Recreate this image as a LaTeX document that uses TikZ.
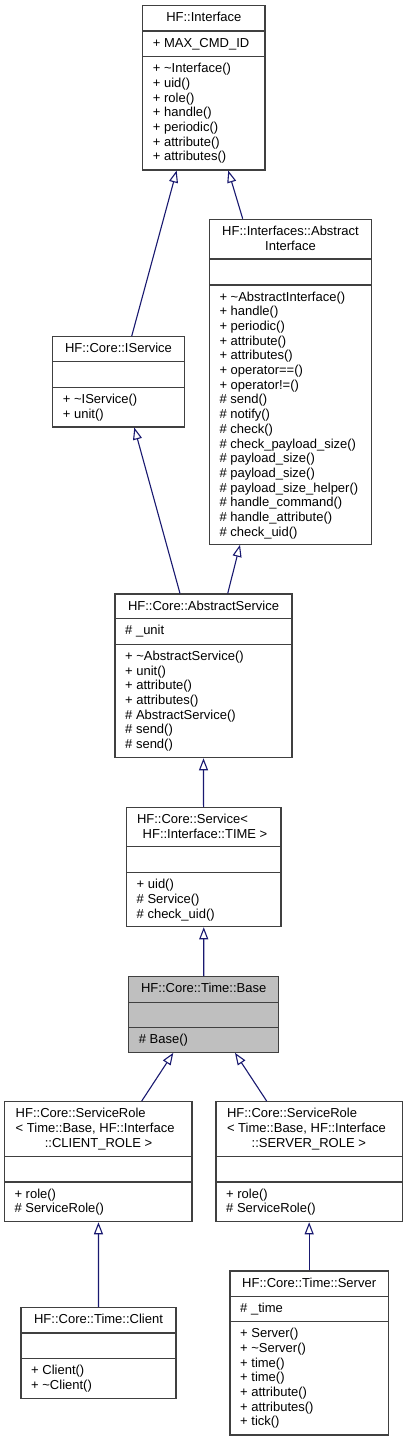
\documentclass[tikz,border=0pt]{standalone}
\usepackage{fontspec}
\setmainfont{Liberation Sans}
\usetikzlibrary{arrows.meta}
\definecolor{edgeblue}{RGB}{25,25,112}
\definecolor{basegray}{RGB}{191,191,191}
\definecolor{boxline}{RGB}{64,64,64}
\tikzset{
  box/.style={draw=boxline,line width=1.1pt,rectangle,inner sep=0pt},
  sepline/.style={draw=boxline,line width=1.1pt},
  txt/.style={inner sep=0pt,font=\fontsize{13}{14.7}\selectfont},
  edge/.style={draw=edgeblue,line width=1.1pt,-{Triangle[open,fill=white,length=12pt,width=9pt]}}
}
\newcommand\umlbox[8]{%
  \pgfmathsetmacro\bw{#3-#2}\pgfmathsetmacro\bh{#7-#4}%
  \node[box,fill=#8,minimum width=\bw pt,minimum height=\bh pt] (#1) at ({(#2+#3)/2},{(#4+#7)/2}) {};
  \draw[sepline] (#2,#5) -- (#3,#5) (#2,#6) -- (#3,#6);
}
\newcommand\members[4]{%
  \foreach \t [count=\i from 0] in {#4} {\node[txt,anchor=base west] (#1-\i) at ({#2+10},{#3+16+14.7*\i}) {\t};}
}
\newcommand\hdr[4]{\node[txt,anchor=base] (#1) at (#2,#3) {#4};}
\newcommand\hdrl[4]{\node[txt,anchor=base west] (#1) at (#2,#3) {#4};}
\begin{document}
\begin{tikzpicture}[x=1pt,y=-1pt]
\useasboundingbox (0,0) rectangle (408,1441);
\fill[white] (0,0) rectangle (408,1441);
% HF::Interface
\umlbox{iface}{142.7}{265}{5.7}{31}{56.7}{170}{white}
\hdr{iface-h}{203.85}{21.7}{HF::Interface}
\members{iface-a}{142.7}{31}{+ MAX\_CMD\_ID}
\members{iface-m}{142.7}{56.7}{+ \textasciitilde Interface(),+ uid(),+ role(),+ handle(),+ periodic(),+ attribute(),+ attributes()}
% AbstractInterface
\umlbox{aint}{209.3}{371.7}{219.3}{259}{285}{544.3}{white}
\hdr{aint-h1}{290.5}{235.3}{HF::Interfaces::Abstract}
\hdr{aint-h2}{290.5}{250}{Interface}
\members{aint-m}{209.3}{285}{+ \textasciitilde AbstractInterface(),+ handle(),+ periodic(),+ attribute(),+ attributes(),+ operator==(),+ operator!=(),\# send(),\# notify(),\# check(),\# check\_payload\_size(),\# payload\_size(),\# payload\_size(),\# payload\_size\_helper(),\# handle\_command(),\# handle\_attribute(),\# check\_uid()}
% IService
\umlbox{iservice}{52.7}{184.3}{336.7}{361.7}{387.7}{427}{white}
\hdr{iservice-h}{118.5}{352.7}{HF::Core::IService}
\members{iservice-m}{52.7}{387.7}{+ \textasciitilde IService(),+ unit()}
% AbstractService
\umlbox{absserv}{115}{292}{594}{618.7}{644.3}{757.7}{white}
\hdr{absserv-h}{203.5}{610}{HF::Core::AbstractService}
\members{absserv-a}{115}{618.7}{\# \_unit}
\members{absserv-m}{115}{644.3}{+ \textasciitilde AbstractService(),+ unit(),+ attribute(),+ attributes(),\# AbstractService(),\# send(),\# send()}
% Service<TIME>
\umlbox{service}{126.5}{281}{807.7}{846.7}{872.7}{926.7}{white}
\hdrl{service-h1}{136.8}{823.5}{HF::Core::Service<}
\hdr{service-h2}{205}{838.2}{HF::Interface::TIME >}
\members{service-m}{126.5}{872.7}{+ uid(),\# Service(),\# check\_uid()}
% Base
\umlbox{base}{128.7}{278.7}{976.7}{1002.3}{1027.7}{1052.3}{basegray}
\hdr{base-h}{203.7}{992.7}{HF::Core::Time::Base}
\members{base-m}{128.7}{1027.7}{\# Base()}
% ServiceRole client
\umlbox{src}{4.3}{192}{1101.7}{1156.7}{1182}{1221.7}{white}
\hdrl{src-h1}{15.5}{1117.7}{HF::Core::ServiceRole}
\hdrl{src-h2}{15.5}{1132.4}{< Time::Base, HF::Interface}
\hdr{src-h3}{98.5}{1147.1}{::CLIENT\_ROLE >}
\members{src-m}{4.3}{1182}{+ role(),\# ServiceRole()}
% ServiceRole server
\umlbox{srs}{216}{402.7}{1101.7}{1156.7}{1182}{1221.7}{white}
\hdrl{srs-h1}{226.8}{1117.7}{HF::Core::ServiceRole}
\hdrl{srs-h2}{226.8}{1132.4}{< Time::Base, HF::Interface}
\hdr{srs-h3}{308.8}{1147.1}{::SERVER\_ROLE >}
\members{srs-m}{216}{1182}{+ role(),\# ServiceRole()}
% Client
\umlbox{client}{21}{176}{1307.7}{1333}{1358.7}{1398.3}{white}
\hdr{client-h}{98.5}{1323.7}{HF::Core::Time::Client}
\members{client-m}{21}{1358.7}{+ Client(),+ \textasciitilde Client()}
% Server
\umlbox{server}{230}{388.3}{1271}{1296.7}{1321.7}{1435}{white}
\hdr{server-h}{309.15}{1287}{HF::Core::Time::Server}
\members{server-a}{230}{1296.7}{\# \_time}
\members{server-m}{230}{1321.7}{+ Server(),+ \textasciitilde Server(),+ time(),+ time(),+ attribute(),+ attributes(),+ tick()}
% edges
\draw[edge] ([xshift=13.2pt]iservice.north) -- ([xshift=-27.2pt]iface.south);
\draw[edge] ([xshift=-47.8pt]aint.north) -- ([xshift=24.4pt]iface.south);
\draw[edge] ([xshift=-23.5pt]absserv.north) -- ([xshift=15.8pt]iservice.south);
\draw[edge] ([xshift=24.2pt]absserv.north) -- ([xshift=-50.5pt]aint.south);
\draw[edge] ([xshift=-0.2pt]service.north) -- (absserv.south);
\draw[edge] (base.north) -- (service.south);
\draw[edge] ([xshift=43.5pt]src.north) -- ([xshift=-30.4pt]base.south);
\draw[edge] ([xshift=-42.6pt]srs.north) -- ([xshift=31.3pt]base.south);
\draw[edge] (client.north) -- ([xshift=0.3pt]src.south);
\draw[edge] (server.north) -- ([xshift=-0.2pt]srs.south);
\end{tikzpicture}
\end{document}
